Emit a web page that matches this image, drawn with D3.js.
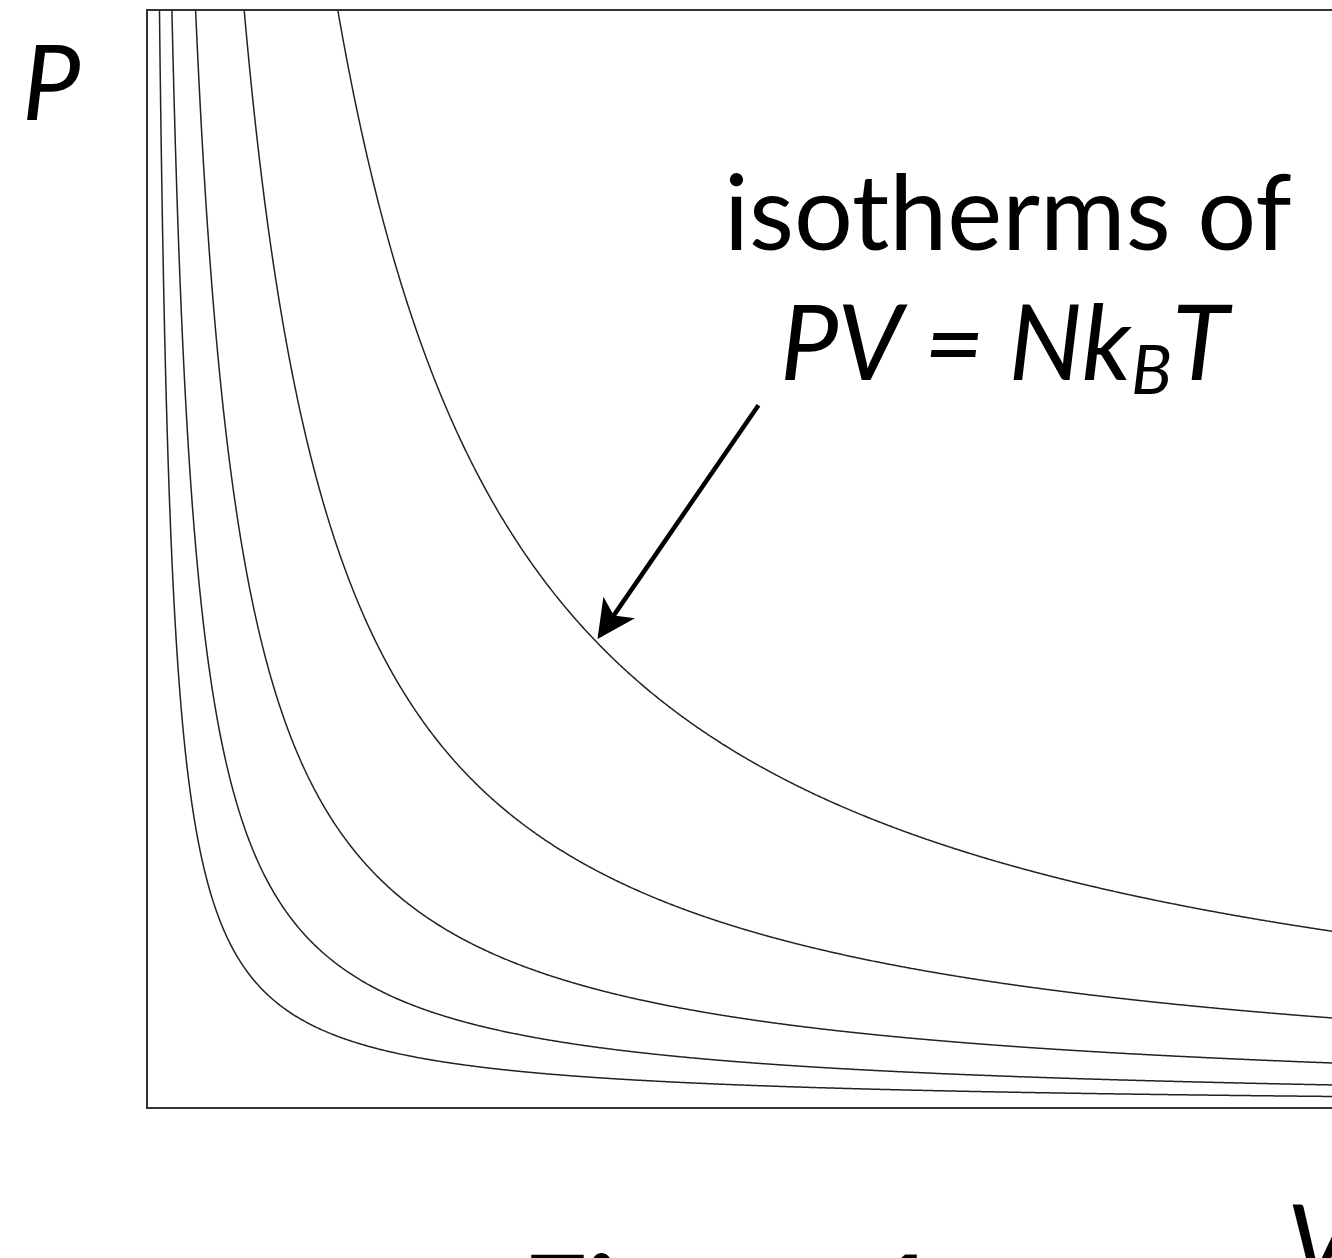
<!DOCTYPE html>
<html>
<head>
<meta charset="utf-8">
<style type="text/css">
html, body{
	padding: 0;
	margin: 0;
	background: white;
}
text {
	font-family: Lato, "Open Sans", sans-serif;
	fill: black;
}
</style>
</head>
<body>
<svg width=1332 height=1258></svg>

<script src="https://cdn.jsdelivr.net/npm/d3@7"></script>
<script type="text/javascript">
	// temperatures of the isotherms (NkB = 1)
	var temps = [1.05, 2.1, 4.1, 8.2, 16.1];
	var vMax = 10.6, pMax = 10;
	// arrow from the label to the outer isotherm, in (V, P)
	var arrowFrom = [5.16, 6.4], arrowTo = [3.82, 4.3];

	var svg = d3.select('svg');
	var x = d3.scaleLinear().domain([0, 10]).range([147, 1332]);
	var y = d3.scaleLinear().domain([0, pMax]).range([1108, 10]);

	svg.append('clipPath').attr('id','clip')
		.append('rect')
		.attr('x',x(0)).attr('y',y(pMax))
		.attr('width',x(vMax)-x(0)).attr('height',y(0)-y(pMax));

	var vs = d3.range(0.05, vMax, 0.01);
	var line = d3.line().x(d=>x(d.v)).y(d=>y(d.p)).curve(d3.curveMonotoneX);

	svg.append('g').attr('clip-path','url(#clip)')
		.selectAll('path')
		.data(temps)
		.enter()
		.append('path')
		.attr('d',t=>line(vs.map(v=>({v:v,p:t/v}))))
		.style('fill','none')
		.style('stroke','#222')
		.style('stroke-width',1.5);

	// frame
	svg.append('rect')
		.attr('x',x(0)).attr('y',y(pMax))
		.attr('width',x(vMax)-x(0)).attr('height',y(0)-y(pMax))
		.style('fill','none')
		.style('stroke','#333')
		.style('stroke-width',2);

	svg.append('defs').append('marker')
		.attr('id','head')
		.attr('viewBox','0 0 10 10')
		.attr('refX',9).attr('refY',5)
		.attr('markerWidth',8.5).attr('markerHeight',8.5)
		.attr('markerUnits','strokeWidth')
		.attr('orient','auto')
		.append('path')
		.attr('d','M0,0 L10,5 L0,10 L2.5,5 Z')
		.style('fill','black');

	svg.append('line')
		.attr('x1',x(arrowFrom[0])).attr('y1',y(arrowFrom[1]))
		.attr('x2',x(arrowTo[0])).attr('y2',y(arrowTo[1]))
		.style('stroke','black')
		.style('stroke-width',4.5)
		.attr('marker-end','url(#head)');

	svg.append('text')
		.attr('x',22).attr('y',120)
		.style('font-size','104px').style('font-style','italic')
		.text('P');

	svg.append('text')
		.attr('x',724).attr('y',250)
		.style('font-size','104px')
		.text('isotherms of');

	var eq = svg.append('text')
		.attr('x',780).attr('y',380)
		.style('font-size','104px').style('font-style','italic');
	eq.append('tspan').text('PV = Nk');
	eq.append('tspan').attr('dy',14).style('font-size','68px').text('B');
	eq.append('tspan').attr('dy',-14).text('T');

	svg.append('text')
		.attr('x',1287).attr('y',1280)
		.style('font-size','104px').style('font-style','italic')
		.text('V');

	svg.append('text')
		.attr('x',522).attr('y',1338)
		.style('font-size','115px').style('font-weight','bold')
		.text('Figure 1');
</script>
</body>
</html>
